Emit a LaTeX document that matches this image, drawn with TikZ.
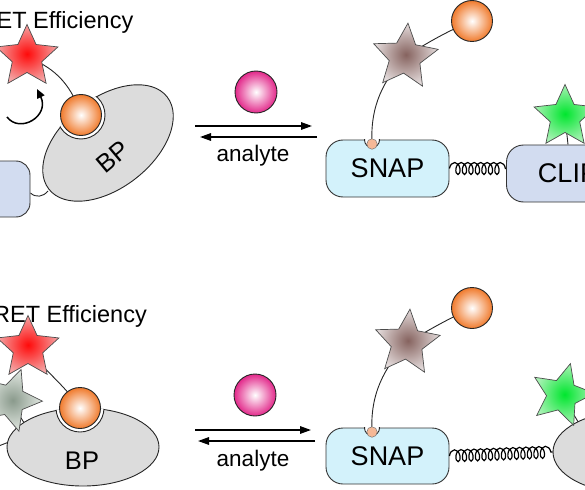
\documentclass[tikz,border=0pt]{standalone}
\usepackage{fontspec}
\setmainfont{Liberation Sans}
\usetikzlibrary{shapes.geometric,arrows.meta,decorations.pathmorphing}
\definecolor{orangeO}{HTML}{F07A2C}
\definecolor{pinkO}{HTML}{E2288A}
\definecolor{redC}{HTML}{FF0A0A}
\definecolor{redE}{HTML}{F4A4A4}
\definecolor{brownC}{HTML}{86635F}
\definecolor{brownE}{HTML}{E4DCDC}
\definecolor{greenC}{HTML}{00E62E}
\definecolor{greenE}{HTML}{A8F2B4}
\definecolor{grayC}{HTML}{8A9A8C}
\definecolor{grayE}{HTML}{E2E8E2}
\definecolor{bpc}{HTML}{DCDCDC}
\definecolor{snapc}{HTML}{D3F2FB}
\definecolor{clipc}{HTML}{D2DCF0}
\definecolor{dotc}{HTML}{F5B896}
\pgfdeclarelayer{bg}
\pgfsetlayers{bg,main}
\begin{document}
\begin{tikzpicture}[x=1pt,y=-1pt,
  outl/.style={draw=black!85, line width=0.9pt},
  orangeball/.style={circle, outl, inner sep=0pt, minimum size=41pt, inner color=white, outer color=orangeO},
  pinkball/.style={circle, outl, inner sep=0pt, minimum size=42pt, inner color=white, outer color=pinkO},
  starbase/.style={star, star points=5, star point ratio=2.1, inner sep=0pt, minimum size=65pt, draw=black!70, line width=0.7pt},
  redstar/.style={starbase, inner color=redC, outer color=redE},
  brownstar/.style={starbase, minimum size=68pt, inner color=brownC, outer color=brownE},
  greenstar/.style={starbase, inner color=greenC, outer color=greenE},
  graystar/.style={starbase, inner color=grayC, outer color=grayE},
  boxbase/.style={rectangle, rounded corners=17pt, draw=black!80, line width=0.9pt, inner sep=0pt, minimum width=123pt, minimum height=57pt, font=\fontsize{27}{30}\selectfont},
  snapbox/.style={boxbase, fill=snapc},
  clipbox/.style={boxbase, fill=clipc},
  dotnode/.style={circle, fill=dotc, draw=black!55, line width=0.5pt, minimum size=10.5pt, inner sep=0pt},
  tether/.style={line width=0.9pt, black!85},
  springline/.style={line width=1.2pt, decorate, decoration={coil, amplitude=6pt, segment length=6.5pt, aspect=0.6}},
  eqarrow/.style={line width=1.5pt, -{Triangle[length=11pt,width=7.5pt]}},
  bigtext/.style={font=\fontsize{23.5}{28}\selectfont, inner sep=0pt},
  lbltext/.style={font=\fontsize{22.5}{26}\selectfont, inner sep=0pt},
  bptext/.style={font=\fontsize{25.5}{30}\selectfont, inner sep=0pt}]
\useasboundingbox (0,0) rectangle (585,489);

% ================= top row =================
\node[bigtext, anchor=base east] (t1) at (133.5,29) {ET Efficiency};
\node[redstar] (rs1) at (27,57) {};
\node[clipbox, minimum width=70pt, minimum height=56pt, rounded corners=14pt] (lbox) at (-5,189) {};
% BP (rotated, with pocket)
\filldraw[fill=bpc, outl, rotate around={38:(108,143)}] (108,143) ellipse [x radius=75pt, y radius=45pt];
\begin{scope}
  \clip[rotate around={38:(108,143)}] (108,143) ellipse [x radius=75.6pt, y radius=45.6pt];
  \filldraw[fill=white, outl] (81,115) circle [radius=24pt];
\end{scope}
\node[orangeball] (ob1) at (81,115) {};
\node[bptext, rotate=40] (bp1) at (113,157) {BP};
\coordinate (ca1) at (7,117);
\coordinate (ca2) at (37,89);
\draw[line width=1.5pt, -{Triangle[length=9pt,width=8pt]}] (ca1) .. controls (20,134) and (50,116) .. (ca2);
\coordinate (bpj1) at (48,191);
\begin{pgfonlayer}{bg}
  \draw[tether] ([yshift=-4pt]lbox.east) .. controls (36,198) and (43,197) .. (bpj1);
  \draw[tether] (rs1.center) .. controls (50,66) and (70,80) .. (ob1.center);
\end{pgfonlayer}

% equilibrium arrows
\coordinate (a1s) at (195,126); \coordinate (a1e) at (312,126);
\coordinate (a2s) at (317,137); \coordinate (a2e) at (200,137);
\draw[eqarrow] (a1s) -- (a1e);
\draw[eqarrow] (a2s) -- (a2e);
\node[pinkball] (pk1) at (256,92) {};
\node[lbltext, anchor=base] (an1) at (253,161) {analyte};

% right part
\node[snapbox] (snap1) at (387.5,168.5) {SNAP};
\begin{scope}
  \clip (320,139.5) rectangle (455,200);
  \filldraw[fill=white, outl] (372,140) circle [radius=7.5pt];
  \node[dotnode] (dot1) at (372,144) {};
\end{scope}
\node[brownstar, rotate=-5] (bs1) at (405,57) {};
\node[orangeball] (ob2) at (472,21) {};
\node[clipbox] (clip1) at (568,173.5) {CLIP};
\draw[springline] (snap1.east) -- ([yshift=5pt]clip1.west);
\node[greenstar] (gs1) at (565,117) {};
\begin{pgfonlayer}{bg}
  \draw[tether] (gs1.center) -- (clip1.north);
  \draw[tether] (dot1.center) .. controls (370,105) and (384,80) .. (bs1.center);
  \draw[tether] (bs1.center) .. controls (428,42) and (450,30) .. (ob2.center);
\end{pgfonlayer}

% ================= bottom row =================
\node[bigtext, anchor=base east] (t2) at (147,322) {RET Efficiency};
\node[redstar] (rs2) at (28,348) {};
\filldraw[fill=bpc, outl] (83,447) ellipse [x radius=76pt, y radius=39pt];
\begin{scope}
  \clip (83,447) ellipse [x radius=76.6pt, y radius=39.6pt];
  \filldraw[fill=white, outl] (80,408) circle [radius=24pt];
\end{scope}
\node[graystar, rotate=-20] (gy2) at (10,400) {};
\node[orangeball] (ob3) at (80,408) {};
\node[bptext] (bp2) at (82,461) {BP};
\coordinate (gyE) at (26,426);
\coordinate (bl1) at (-4,447);
\coordinate (bl2) at (9,442);
\begin{pgfonlayer}{bg}
  \draw[tether] (rs2.center) .. controls (45,372) and (62,382) .. (ob3.center);
  \draw[tether] (gy2.center) -- (gyE);
  \draw[tether] (bl1) -- (bl2);
\end{pgfonlayer}

\coordinate (b1s) at (195,430); \coordinate (b1e) at (311,430);
\coordinate (b2s) at (315,441); \coordinate (b2e) at (198,441);
\draw[eqarrow] (b1s) -- (b1e);
\draw[eqarrow] (b2s) -- (b2e);
\node[pinkball] (pk2) at (255,395) {};
\node[lbltext, anchor=base] (an2) at (253,466) {analyte};

\node[snapbox, minimum height=56pt] (snap2) at (387.5,456) {SNAP};
\begin{scope}
  \clip (320,427.5) rectangle (455,490);
  \filldraw[fill=white, outl] (372,428) circle [radius=7.5pt];
  \node[dotnode] (dot2) at (372,432) {};
\end{scope}
\node[brownstar, rotate=-5] (bs2) at (407,343) {};
\node[orangeball] (ob4) at (472,308) {};
\node[ellipse, fill=bpc, outl, minimum width=154pt, minimum height=82pt, inner sep=0pt] (bpR) at (630,452) {};
\draw[springline] (snap2.east) -- (bpR.west);
\node[greenstar, rotate=-15] (gs2) at (562,395) {};
\coordinate (gsE) at (580,425);
\begin{pgfonlayer}{bg}
  \draw[tether] (gs2.center) -- (gsE);
  \draw[tether] (dot2.center) .. controls (370,394) and (384,368) .. (bs2.center);
  \draw[tether] (bs2.center) .. controls (430,329) and (450,318) .. (ob4.center);
\end{pgfonlayer}
\end{tikzpicture}
\end{document}
